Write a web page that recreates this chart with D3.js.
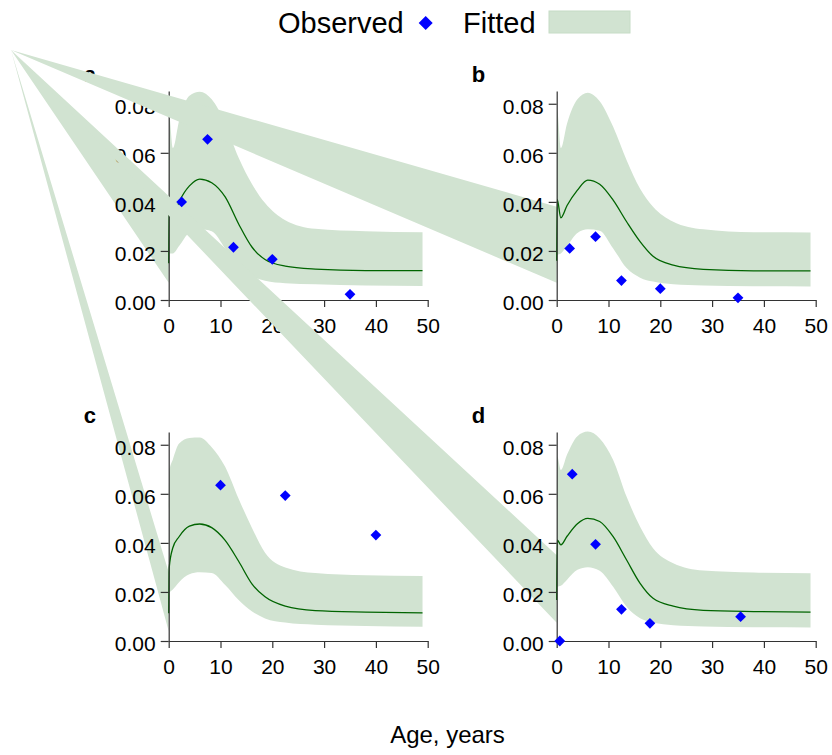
<!DOCTYPE html>
<html lang="en">
<head>
<meta charset="UTF-8">
<title>Observed vs fitted by age</title>
<script src="https://cdn.jsdelivr.net/npm/d3@7"></script>
<style>
    body { margin: 0; background: #fff; }
    text { font-family: "Liberation Sans", Arial, Helvetica, sans-serif; }
</style>
</head>
<body>
<div id="chart"></div>
<script>
    // age grid for the fitted curve and its band
    const ages = [0, 0.1, 0.8, 2, 4, 6, 8.3, 10.9, 13.5, 16.1, 18.6, 22.5, 28.3, 38, 49];

    const fitA = [0.015, 0.041, 0.034, 0.040, 0.0465, 0.0493, 0.0478, 0.042, 0.031, 0.0215, 0.0165, 0.0138, 0.0126, 0.012, 0.012];
    const upA  = [0.037, 0.075, 0.062, 0.073, 0.0833, 0.0849, 0.0818, 0.072, 0.058, 0.0472, 0.0395, 0.0325, 0.029, 0.028, 0.0276];
    const loA  = [0.007, 0.019, 0.019, 0.022, 0.0275, 0.0288, 0.028, 0.021, 0.013, 0.0096, 0.0078, 0.0068, 0.0064, 0.0059, 0.0057];

    const fitB = [0.016, 0.041, 0.0335, 0.0385, 0.0448, 0.0489, 0.0472, 0.0407, 0.0319, 0.0238, 0.0178, 0.0142, 0.0125, 0.0119, 0.0119];
    const upB  = [0.038, 0.077, 0.062, 0.072, 0.0818, 0.0845, 0.081, 0.0706, 0.057, 0.0454, 0.038, 0.0319, 0.0288, 0.0276, 0.0275];
    const loB  = [0.007, 0.0183, 0.019, 0.022, 0.0273, 0.0288, 0.0282, 0.021, 0.013, 0.0091, 0.0075, 0.0064, 0.0059, 0.0056, 0.0055];

    const fitC = [0.0113, 0.030, 0.038, 0.0425, 0.0468, 0.0477, 0.0462, 0.041, 0.0325, 0.0232, 0.018, 0.0142, 0.0124, 0.0118, 0.0115];
    const upC  = [0.028, 0.069, 0.074, 0.0805, 0.0828, 0.083, 0.079, 0.071, 0.058, 0.046, 0.036, 0.030, 0.0277, 0.0268, 0.0265];
    const loC  = [0.004, 0.0195, 0.021, 0.024, 0.0272, 0.028, 0.0277, 0.0228, 0.0167, 0.012, 0.0092, 0.0075, 0.0066, 0.0061, 0.0058];

    const fitD = [0.0167, 0.0412, 0.0392, 0.0427, 0.0478, 0.050, 0.0487, 0.0425, 0.033, 0.0235, 0.0174, 0.0142, 0.0125, 0.012, 0.0118];
    const upD  = [0.035, 0.0752, 0.0697, 0.076, 0.0835, 0.0854, 0.0826, 0.0738, 0.0588, 0.0466, 0.0378, 0.0317, 0.0287, 0.0279, 0.0276];
    const loD  = [0.0074, 0.022, 0.0225, 0.025, 0.029, 0.0301, 0.0286, 0.0221, 0.014, 0.0093, 0.0075, 0.0064, 0.0059, 0.0056, 0.0055];

    // observed points
    const obsAgeA = [2.5, 7.5, 12.5, 20, 35];
    const obsA    = [0.040, 0.0655, 0.0215, 0.0166, 0.0023];
    const obsAgeB = [2.5, 7.5, 12.5, 20, 35];
    const obsB    = [0.021, 0.0258, 0.0079, 0.0046, 0.0009];
    const obsAgeC = [10, 22.5, 40];
    const obsC    = [0.0635, 0.0593, 0.0432];
    const obsAgeD = [0.6, 3, 7.5, 12.5, 18, 35.5];
    const obsD    = [0.0, 0.068, 0.0394, 0.0129, 0.0072, 0.0099];

    const panelLabels = ["a", "b", "c", "d"];
    const xTicks = [0, 10, 20, 30, 40, 50];
    const yTicks = [0, 0.02, 0.04, 0.06, 0.08];

    const W = 832, H = 755;
    const pw = 259, ph = 209;
    const lefts = [168.7, 556.7, 168.7, 556.7];
    const tops = [91, 91, 432, 432];
    // stray first vertex shared by every band path
    const anchor = [11, 50];
    const bandColor = "#d1e3d1";

    const panels = [
        {fit: fitA, up: upA, lo: loA, ox: obsAgeA, oy: obsA},
        {fit: fitB, up: upB, lo: loB, ox: obsAgeB, oy: obsB},
        {fit: fitC, up: upC, lo: loC, ox: obsAgeC, oy: obsC},
        {fit: fitD, up: upD, lo: loD, ox: obsAgeD, oy: obsD}
    ];

    const svg = d3.select("#chart").append("svg")
        .attr("width", W).attr("height", H);

    const x = d3.scaleLinear().domain([0, 50]).range([0, pw]);
    const y = d3.scaleLinear().domain([0, 0.0852]).range([ph, 0]);

    const diamond = d3.symbol().type(d3.symbolSquare).size(58);

    panels.forEach((p, i) => {
        const g = svg.append("g")
            .attr("transform", "translate(" + lefts[i] + "," + tops[i] + ")");

        const rows = ages.map((a, k) => ({age: a, fit: p.fit[k], up: p.up[k], lo: p.lo[k]}));

        const area = d3.area()
            .x(d => x(d.age))
            .y0(d => y(d.lo))
            .y1(d => y(d.up))
            .curve(d3.curveMonotoneX);

        const local = [anchor[0] - lefts[i], anchor[1] - tops[i]];
        const bandPath = "M" + local[0] + "," + local[1] + "L" + area(rows).slice(1);

        g.append("path")
            .attr("d", bandPath)
            .attr("fill", bandColor)
            .attr("stroke", "none");

        g.append("path")
            .datum(rows)
            .attr("fill", "none")
            .attr("stroke", "#006400")
            .attr("stroke-width", 1.3)
            .attr("d", d3.line().x(d => x(d.age)).y(d => y(d.fit)).curve(d3.curveMonotoneX));

        const xa = g.append("g")
            .attr("transform", "translate(0," + ph + ")")
            .call(d3.axisBottom(x).tickValues(xTicks).tickSize(7).tickSizeOuter(0).tickPadding(12));
        xa.selectAll("text").attr("font-size", 21).attr("fill", "#000").attr("dy", "0.66em")
            .style("font-family", "'Liberation Sans', Arial, sans-serif");

        const ya = g.append("g")
            .call(d3.axisLeft(y).tickValues(yTicks).tickFormat(d3.format(".2f"))
                .tickSize(8).tickSizeOuter(0).tickPadding(5));
        ya.selectAll("text").attr("font-size", 21).attr("fill", "#000").attr("dy", "0.46em")
            .style("font-family", "'Liberation Sans', Arial, sans-serif");

        g.selectAll(".domain, .tick line").attr("stroke", "#333").attr("stroke-width", 1.2);

        g.selectAll(".obs")
            .data(p.ox.map((a, k) => ({age: a, v: p.oy[k]})))
            .enter().append("path")
            .attr("class", "obs")
            .attr("d", diamond)
            .attr("transform", d => "translate(" + x(d.age) + "," + y(d.v) + ") rotate(45)")
            .attr("fill", "#0000ff");

        g.append("text")
            .attr("x", -85)
            .attr("y", -9)
            .attr("font-size", 22)
            .attr("font-weight", "bold")
            .text(panelLabels[i]);
    });

    // legend
    const leg = svg.append("g");
    leg.append("text").attr("x", 278).attr("y", 33).attr("font-size", 29).text("Observed");
    leg.append("path")
        .attr("d", d3.symbol().type(d3.symbolSquare).size(98))
        .attr("transform", "translate(425.7,23) rotate(45)")
        .attr("fill", "#0000ff");
    leg.append("text").attr("x", 463).attr("y", 33).attr("font-size", 29).text("Fitted");
    leg.append("rect")
        .attr("x", 549).attr("y", 11).attr("width", 81).attr("height", 22)
        .attr("fill", bandColor).attr("stroke", "#c6dcc6").attr("stroke-width", 1);

    svg.append("text")
        .attr("x", 447.5).attr("y", 743)
        .attr("text-anchor", "middle")
        .attr("font-size", 24)
        .text("Age, years");
</script>
</body>
</html>
